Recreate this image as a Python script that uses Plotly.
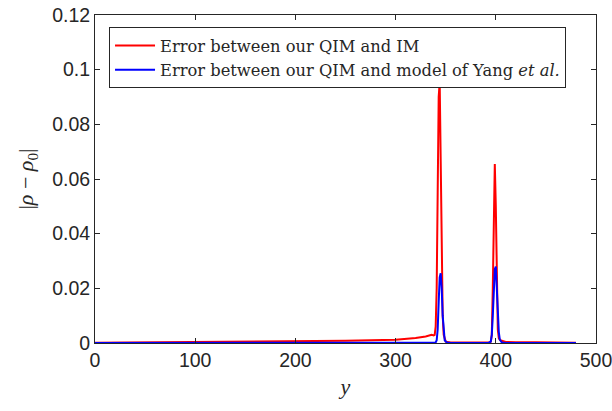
import plotly.graph_objects as go

# Error between our QIM and IM (red)
red_y = [0, 50, 100, 150, 200, 250, 300, 320, 330, 336, 338, 339, 340, 341, 342, 343, 344, 345, 346, 347, 348, 350, 355,
         370, 390, 394, 395, 396, 397, 398, 399, 400, 401, 402, 403, 404, 406, 410, 420, 430, 440, 460, 480]
red_v = [0.0001, 0.0002, 0.0003, 0.0004, 0.0006, 0.0008, 0.0012, 0.0018, 0.0024, 0.0030, 0.0028, 0.0030, 0.0060, 0.0200, 0.0550, 0.0900, 0.0955, 0.0700, 0.0300, 0.0100, 0.0030, 0.0005, 0.0002,
         0.0001, 0.0001, 0.0002, 0.0005, 0.0030, 0.0200, 0.0500, 0.0655, 0.0500, 0.0200, 0.0050, 0.0018, 0.0012, 0.0008, 0.0004, 0.0003, 0.0004, 0.0003, 0.0002, 0.0001]

# Error between our QIM and model of Yang et al. (blue)
blue_y = [0, 100, 200, 300, 338, 340, 341, 342, 343, 344, 345, 346, 347, 348, 349, 351, 355,
          380, 393, 395, 396, 397, 398, 399, 400, 401, 402, 403, 404, 406, 410, 440, 480]
blue_v = [0.0000, 0.0000, 0.0000, 0.0000, 0.0000, 0.0002, 0.0010, 0.0050, 0.0150, 0.0240, 0.0255, 0.0200, 0.0100, 0.0040, 0.0010, 0.0002, 0.0000,
          0.0000, 0.0001, 0.0005, 0.0030, 0.0100, 0.0200, 0.0270, 0.0280, 0.0220, 0.0120, 0.0040, 0.0012, 0.0002, 0.0000, 0.0000, 0.0000]

x_ticks = [0, 100, 200, 300, 400, 500]
y_ticks = [0, 0.02, 0.04, 0.06, 0.08, 0.1, 0.12]
y_tick_text = ["0", "0.02", "0.04", "0.06", "0.08", "0.1", "0.12"]

fig = go.Figure()
fig.add_trace(go.Scatter(x=red_y, y=red_v, mode="lines", line=dict(color="#ff0000", width=2),
                         name="Error between our QIM and IM"))
fig.add_trace(go.Scatter(x=blue_y, y=blue_v, mode="lines", line=dict(color="#0000ff", width=2),
                         name="Error between our QIM and model of Yang <i>et al.</i>"))

axis_common = dict(showline=True, linecolor="#262626", linewidth=1, mirror="ticks", ticks="inside",
                   ticklen=5, tickcolor="#262626", showgrid=False, zeroline=False,
                   ticklabeloverflow="allow", automargin=False,
                   tickfont=dict(family="Liberation Sans, Arial", size=19.5, color="#262626"))

fig.update_layout(
    width=612, height=411,
    margin=dict(l=95, r=16, t=15, b=68),
    paper_bgcolor="white", plot_bgcolor="white",
    showlegend=True,
    legend=dict(x=0.028, y=0.962, xanchor="left", yanchor="top",
                bgcolor="white", bordercolor="#262626", borderwidth=1,
                font=dict(family="DejaVu Serif", size=16.3, color="#262626"),
                tracegroupgap=0, itemwidth=40),
    xaxis=dict(range=[0, 500], tickvals=x_ticks,
               title=dict(text="<i>y</i>", font=dict(family="Liberation Serif", size=22, color="#262626"), standoff=8),
               **axis_common),
    yaxis=dict(range=[0, 0.12], tickvals=y_ticks, ticktext=y_tick_text,
               title=dict(text="|<i>ρ</i> − <i>ρ</i><sub>0</sub>|", font=dict(family="Liberation Serif", size=22, color="#262626"), standoff=12),
               **axis_common),
)

fig.write_html("out.html")
